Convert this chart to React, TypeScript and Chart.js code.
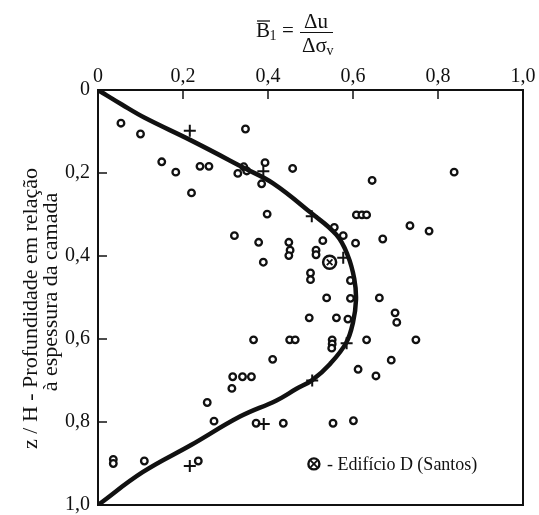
import React, { useEffect, useRef } from "react";
import { Chart, registerables } from "chart.js";

Chart.register(...registerables);

const INK = "#111111";
const SERIF = "'Liberation Serif', 'Times New Roman', serif";

// Open circles (x = B1, y = z/H)
const circleX = [
  0.054, 0.1, 0.347,
  0.15, 0.183, 0.24, 0.261, 0.329, 0.343, 0.35, 0.393, 0.385, 0.458, 0.645, 0.838,
  0.22,
  0.398, 0.608, 0.621, 0.632,
  0.556, 0.577, 0.734, 0.779,
  0.321,
  0.378, 0.449, 0.452, 0.449, 0.529, 0.513, 0.513, 0.606, 0.67,
  0.389,
  0.5, 0.5, 0.594,
  0.538, 0.594, 0.662,
  0.497, 0.561, 0.588,
  0.699, 0.703,
  0.366, 0.451, 0.464, 0.551, 0.551, 0.55, 0.632, 0.748,
  0.411, 0.69,
  0.612, 0.654,
  0.317, 0.34, 0.361,
  0.315, 0.257, 0.273,
  0.372, 0.436, 0.553, 0.601,
  0.036, 0.036, 0.109, 0.236,
];
const circleY = [
  0.08, 0.106, 0.094,
  0.173, 0.198, 0.184, 0.184, 0.201, 0.185, 0.195, 0.175, 0.226, 0.189, 0.218, 0.198,
  0.248,
  0.299, 0.301, 0.301, 0.301,
  0.331, 0.351, 0.327, 0.34,
  0.351,
  0.367, 0.367, 0.386, 0.399, 0.363, 0.386, 0.397, 0.369, 0.359,
  0.415,
  0.441, 0.457, 0.459,
  0.501, 0.502, 0.501,
  0.549, 0.549, 0.552,
  0.537, 0.56,
  0.602, 0.602, 0.602, 0.602, 0.612, 0.622, 0.602, 0.602,
  0.649, 0.651,
  0.673, 0.689,
  0.691, 0.691, 0.691,
  0.719, 0.753, 0.798,
  0.803, 0.803, 0.803, 0.797,
  0.89, 0.9, 0.894, 0.894,
];

// Plus markers
const plusX = [0.216, 0.389, 0.503, 0.577, 0.585, 0.504, 0.39, 0.216];
const plusY = [0.098, 0.196, 0.304, 0.404, 0.61, 0.7, 0.805, 0.906];

// Edifício D (Santos)
const santosX = [0.545];
const santosY = [0.415];

// Fitted curve
const curveX = [0, 0.056, 0.11, 0.22, 0.344, 0.412, 0.501, 0.561, 0.587, 0.603, 0.607, 0.6, 0.584, 0.546, 0.504, 0.467, 0.42, 0.334, 0.22, 0.105, 0];
const curveY = [0, 0.035, 0.067, 0.122, 0.188, 0.225, 0.296, 0.349, 0.397, 0.455, 0.506, 0.56, 0.609, 0.66, 0.699, 0.72, 0.748, 0.787, 0.855, 0.921, 1.0];

const tickValues = [0, 0.2, 0.4, 0.6, 0.8, 1.0];
const yTitleLines = ["z / H - Profundidade em relação    ", "  à espessura da camada"];
const legendText = "- Edifício D (Santos)";

const fmt = (v: number) => (v === 0 ? "0" : Number(v).toFixed(1).replace(".", ","));
const zip = (xs: number[], ys: number[]) => xs.map((x, i) => ({ x, y: ys[i] }));

const decor = {
  id: "decor",
  afterDraw(chart: any) {
    const { ctx, chartArea: a, scales } = chart;
    const x = scales.x;
    const y = scales.y;
    ctx.save();
    ctx.strokeStyle = INK;
    ctx.fillStyle = INK;
    // frame
    ctx.lineWidth = 2;
    ctx.strokeRect(a.left, a.top, a.right - a.left, a.bottom - a.top);
    // inward ticks
    ctx.lineWidth = 1.5;
    tickValues.forEach((v) => {
      if (v <= 0 || v >= 1) return;
      const px = x.getPixelForValue(v);
      ctx.beginPath();
      ctx.moveTo(px, a.top);
      ctx.lineTo(px, a.top + 9);
      ctx.stroke();
      const py = y.getPixelForValue(v);
      ctx.beginPath();
      ctx.moveTo(a.left, py);
      ctx.lineTo(a.left + 9, py);
      ctx.stroke();
    });

    // formula  B̄1 = Δu / Δσv
    ctx.textBaseline = "alphabetic";
    ctx.textAlign = "left";
    ctx.font = `21px ${SERIF}`;
    ctx.fillText("B", 256, 37);
    ctx.lineWidth = 1.3;
    ctx.beginPath();
    ctx.moveTo(257, 21);
    ctx.lineTo(270, 21);
    ctx.stroke();
    ctx.font = `14px ${SERIF}`;
    ctx.fillText("1", 269.5, 40);
    ctx.font = `21px ${SERIF}`;
    ctx.fillText("=", 282, 37);
    ctx.textAlign = "center";
    ctx.fillText("Δu", 316, 28);
    ctx.lineWidth = 1.2;
    ctx.beginPath();
    ctx.moveTo(300, 32.5);
    ctx.lineTo(333, 32.5);
    ctx.stroke();
    ctx.textAlign = "left";
    ctx.fillText("Δσ", 302, 52);
    ctx.font = `14px ${SERIF}`;
    ctx.fillText("v", 326.5, 55);

    // legend (inside plot, lower right)
    const lx = x.getPixelForValue(0.508);
    const ly = y.getPixelForValue(0.901);
    ctx.lineWidth = 2.4;
    ctx.beginPath();
    ctx.arc(lx, ly, 5.5, 0, Math.PI * 2);
    ctx.stroke();
    ctx.lineWidth = 1.8;
    const d = 3.2;
    ctx.beginPath();
    ctx.moveTo(lx - d, ly - d);
    ctx.lineTo(lx + d, ly + d);
    ctx.moveTo(lx + d, ly - d);
    ctx.lineTo(lx - d, ly + d);
    ctx.stroke();
    ctx.font = `18px ${SERIF}`;
    ctx.textBaseline = "middle";
    ctx.fillText(legendText, lx + 13, ly + 1);
    ctx.restore();
  },
};

export default function App() {
  const ref = useRef<HTMLCanvasElement | null>(null);
  useEffect(() => {
    if (!ref.current) return;
    const chart = new Chart(ref.current, {
      type: "scatter",
      data: {
        datasets: [
          {
            type: "line",
            data: zip(curveX, curveY),
            borderColor: INK,
            borderWidth: 4.5,
            pointRadius: 0,
            tension: 0.4,
            fill: false,
          } as any,
          {
            data: zip(santosX, santosY),
            pointStyle: "crossRot",
            pointRadius: 4,
            borderWidth: 1.8,
            borderColor: INK,
            backgroundColor: INK,
          },
          {
            data: zip(santosX, santosY),
            pointStyle: "circle",
            pointRadius: 6.5,
            borderWidth: 2.5,
            borderColor: INK,
            backgroundColor: "#ffffff",
          },
          {
            data: zip(plusX, plusY),
            pointStyle: "cross",
            pointRadius: 6,
            borderWidth: 2,
            borderColor: INK,
            backgroundColor: INK,
          },
          {
            data: zip(circleX, circleY),
            pointStyle: "circle",
            pointRadius: 3.3,
            borderWidth: 2.3,
            borderColor: INK,
            backgroundColor: "#ffffff",
          },
        ],
      },
      options: {
        responsive: false,
        animation: false,
        events: [],
        layout: { padding: { left: 0, top: 0, right: 16, bottom: 10 } },
        plugins: { legend: { display: false }, tooltip: { enabled: false } },
        scales: {
          x: {
            type: "linear",
            position: "top",
            min: 0,
            max: 1,
            afterBuildTicks: (s: any) => {
              s.ticks = tickValues.map((v) => ({ value: v }));
            },
            afterFit: (s: any) => {
              s.height = 90;
              s.paddingLeft = 0;
              s.paddingRight = 0;
            },
            grid: { display: false, drawTicks: false },
            border: { display: false },
            ticks: {
              callback: (v: any) => fmt(Number(v)),
              font: { family: SERIF, size: 20 },
              color: INK,
              padding: 1,
              maxRotation: 0,
              autoSkip: false,
            },
          },
          y: {
            type: "linear",
            reverse: true,
            min: 0,
            max: 1,
            afterBuildTicks: (s: any) => {
              s.ticks = tickValues.map((v) => ({ value: v }));
            },
            afterFit: (s: any) => {
              s.width = 98;
              s.paddingTop = 0;
              s.paddingBottom = 0;
            },
            grid: { display: false, drawTicks: false },
            border: { display: false },
            ticks: {
              callback: (v: any) => fmt(Number(v)),
              font: { family: SERIF, size: 20 },
              color: INK,
              padding: 8,
              autoSkip: false,
            },
            title: {
              display: true,
              text: yTitleLines,
              font: { family: SERIF, size: 22, lineHeight: 0.92 },
              color: INK,
              padding: { top: 21, bottom: 0 },
            },
          },
        },
      },
      plugins: [decor],
    });
    return () => chart.destroy();
  }, []);
  return (
    <div style={{ position: "fixed", left: 0, top: 0, width: 539, height: 515, background: "#fff" }}>
      <canvas ref={ref} width={539} height={515} style={{ display: "block" }} />
    </div>
  );
}
